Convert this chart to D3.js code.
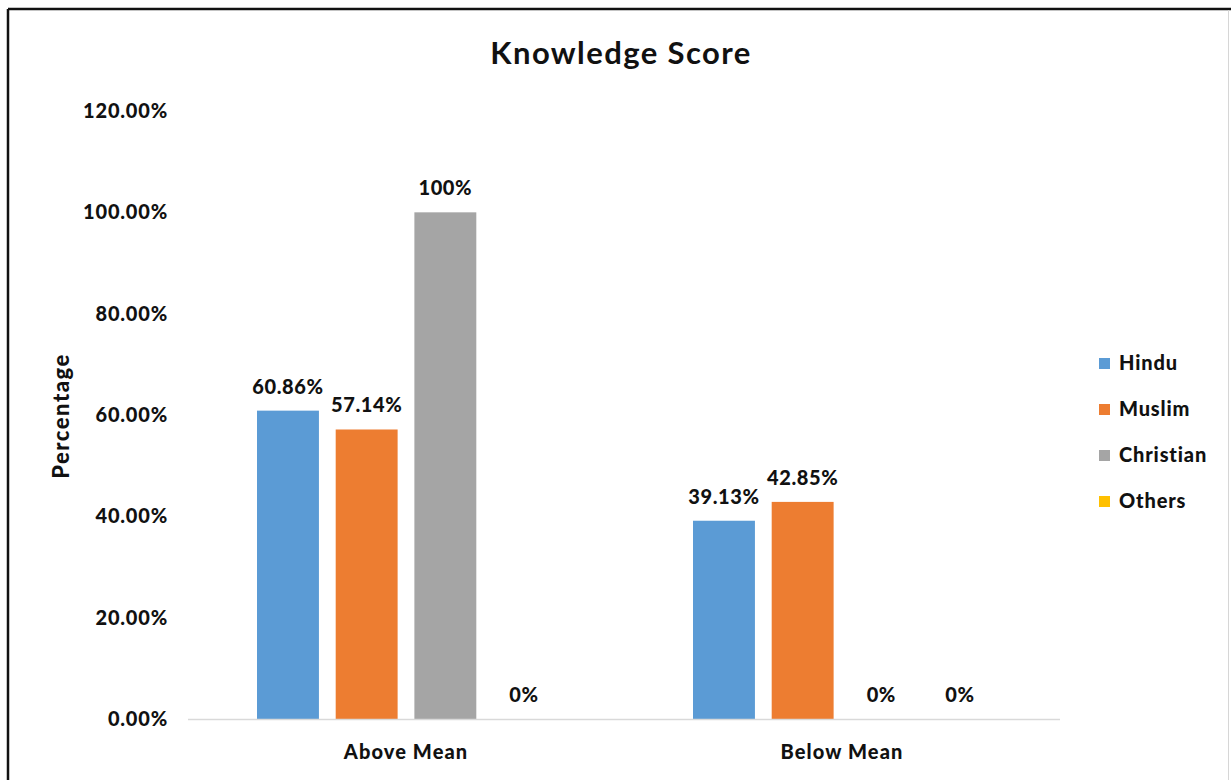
<!DOCTYPE html>
<html>
<head>
<meta charset="utf-8">
<script src="https://cdn.jsdelivr.net/npm/d3@7"></script>
<style>
  html, body { margin: 0; padding: 0; background: #fff; }
  svg { display: block; }
  text { font-family: Lato, "Open Sans", sans-serif; fill: #111; }
</style>
</head>
<body>
<svg id="chart" width="1231" height="780"></svg>
<script>
// Knowledge score by religion, percent of respondents
const categories = ["Above Mean", "Below Mean"];
const series = ["Hindu", "Muslim", "Christian", "Others"];
const hinduValues = [60.86, 39.13];
const muslimValues = [57.14, 42.85];
const christianValues = [100, 0];
const othersValues = [0, 0];
const yTicks = [0, 20, 40, 60, 80, 100, 120];
const seriesColors = ["#5B9BD5", "#ED7D31", "#A5A5A5", "#FFC000"];

const valuesBySeries = [hinduValues, muslimValues, christianValues, othersValues];
const rows = categories.map((c, i) => ({
  category: c,
  bars: series.map((s, j) => ({ series: s, value: valuesBySeries[j][i] }))
}));

const svg = d3.select("#chart");

// outer frame
svg.append("line").attr("x1", 8).attr("y1", 9).attr("x2", 1231).attr("y2", 9)
  .attr("stroke", "#111").attr("stroke-width", 2.5);
svg.append("line").attr("x1", 8).attr("y1", 9).attr("x2", 8).attr("y2", 780)
  .attr("stroke", "#111").attr("stroke-width", 2.5);
svg.append("line").attr("x1", 1228.5).attr("y1", 10).attr("x2", 1228.5).attr("y2", 780)
  .attr("stroke", "#d6d6d6").attr("stroke-width", 1);

const plot = { left: 188, right: 1060, top: 111, bottom: 719 };

const x0 = d3.scaleBand().domain(categories).range([plot.left, plot.right]).padding(0);
const groupPad = 69;
const x1 = d3.scaleBand().domain(series)
  .range([groupPad, x0.bandwidth() - groupPad])
  .paddingInner(0.213).paddingOuter(0);
const y = d3.scaleLinear().domain([0, 120]).range([plot.bottom, plot.top]);
const color = d3.scaleOrdinal().domain(series).range(seriesColors);

// title
svg.append("text")
  .attr("x", 621).attr("y", 64)
  .attr("text-anchor", "middle")
  .attr("font-size", 31).attr("font-weight", 700)
  .attr("letter-spacing", 1.4)
  .text("Knowledge Score");

// y axis
const yAxis = d3.axisLeft(y).tickValues(yTicks)
  .tickFormat(d => d3.format(".2f")(d) + "%")
  .tickSize(0).tickPadding(0);
const gy = svg.append("g").attr("transform", `translate(168,0)`).call(yAxis);
gy.select(".domain").remove();
gy.selectAll("text")
  .attr("font-size", 20).attr("font-weight", 900)
  .attr("letter-spacing", 0.8)
  .attr("font-family", "Lato, sans-serif")
  .attr("fill", "#111");

// y axis title
svg.append("text")
  .attr("transform", "translate(69,416) rotate(-90)")
  .attr("text-anchor", "middle")
  .attr("font-size", 22).attr("font-weight", 900)
  .attr("letter-spacing", 1.5)
  .text("Percentage");

// bars
const groups = svg.append("g").selectAll("g")
  .data(rows).join("g")
  .attr("transform", d => `translate(${x0(d.category)},0)`);

groups.selectAll("rect")
  .data(d => d.bars).join("rect")
  .attr("x", d => x1(d.series))
  .attr("width", x1.bandwidth())
  .attr("y", d => y(d.value))
  .attr("height", d => y(0) - y(d.value))
  .attr("fill", d => color(d.series));

// data labels
const fmtLabel = v => (v % 1 === 0 ? v + "%" : v.toFixed(2) + "%");
groups.selectAll("text.lbl")
  .data(d => d.bars).join("text")
  .attr("class", "lbl")
  .attr("x", d => x1(d.series) + x1.bandwidth() / 2)
  .attr("y", d => y(d.value) - 17)
  .attr("text-anchor", "middle")
  .attr("font-size", 20).attr("font-weight", 900)
  .attr("letter-spacing", 0.6)
  .text(d => fmtLabel(d.value));

// x axis baseline and category labels
const xAxis = d3.axisBottom(x0).tickSize(0).tickPadding(0);
const gx = svg.append("g").attr("transform", `translate(0,${plot.bottom})`).call(xAxis);
gx.select(".domain").attr("stroke", "#d9d9d9").attr("stroke-width", 1.5)
  .attr("d", `M${plot.left},0.5H${plot.right}`);
gx.selectAll("text")
  .attr("dy", 0).attr("y", 40)
  .attr("font-size", 20).attr("font-weight", 900)
  .attr("letter-spacing", 1.1)
  .attr("font-family", "Lato, sans-serif")
  .attr("fill", "#111");

// legend
const legend = svg.append("g").attr("transform", "translate(1099,363)");
const items = legend.selectAll("g").data(series).join("g")
  .attr("transform", (d, i) => `translate(0,${i * 46})`);
items.append("rect")
  .attr("x", 0).attr("y", -5).attr("width", 11).attr("height", 11)
  .attr("fill", d => color(d));
items.append("text")
  .attr("x", 20).attr("y", 7)
  .attr("font-size", 20).attr("font-weight", 900)
  .attr("letter-spacing", 0.85)
  .text(d => d);
</script>
</body>
</html>
